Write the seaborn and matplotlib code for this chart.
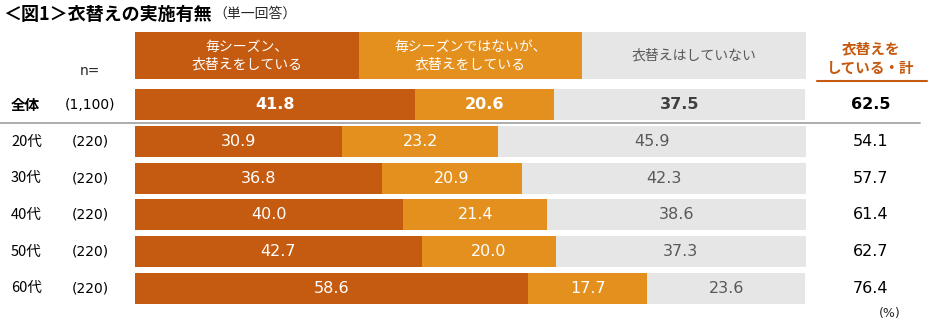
import matplotlib
matplotlib.use("Agg")
import matplotlib.pyplot as plt
from matplotlib.lines import Line2D
from matplotlib.transforms import blended_transform_factory
import seaborn as sns
import numpy as np

# ---------------- data ----------------
groups = ["全体", "20代", "30代", "40代", "50代", "60代"]
sample_sizes = ["(1,100)", "(220)", "(220)", "(220)", "(220)", "(220)"]
every_season = [41.8, 30.9, 36.8, 40.0, 42.7, 58.6]
not_every_season = [20.6, 23.2, 20.9, 21.4, 20.0, 17.7]
not_doing = [37.5, 45.9, 42.3, 38.6, 37.3, 23.6]
doing_total = [62.5, 54.1, 57.7, 61.4, 62.7, 76.4]
series_labels = ["毎シーズン、\n衣替えをしている",
                 "毎シーズンではないが、\n衣替えをしている",
                 "衣替えはしていない"]
total_label = "衣替えを\nしている・計"
title = "＜図1＞衣替えの実施有無"
subtitle = "（単一回答）"
n_label = "n="
unit_label = "(%)"

# ---------------- style ----------------
sns.set_theme(style="white")
plt.rcParams["font.family"] = ["DejaVu Sans", "Noto Sans CJK JP"]
CJK = ["Noto Sans CJK JP", "DejaVu Sans"]

W, H = 934, 327
fig = plt.figure(figsize=(W / 100, H / 100), dpi=100)


def fx(px):
    return px / W


def fy(py):
    return 1 - py / H


dark = "#C55A11"
light = "#E4901E"
gray = "#E6E6E6"
colors = [dark, light, gray]

ax = fig.add_axes([fx(135), fy(306.5), fx(806) - fx(135), (306.5 - 86.5) / H])
hax = fig.add_axes([fx(135), fy(79), fx(806) - fx(135), 47 / H])

# ---------------- stacked bars ----------------
series = [every_season, not_every_season, not_doing]
left = np.zeros(len(groups))
for i, vals in enumerate(series):
    sns.barplot(x=vals, y=groups, orient="h", left=left, color=colors[i],
                width=0.84, saturation=1, errorbar=None, ax=ax, linewidth=0)
    cont = ax.containers[-1]
    txt_color = "white" if i < 2 else "#595959"
    texts = ax.bar_label(cont, labels=[f"{v:.1f}" for v in vals],
                         label_type="center", color=txt_color, fontsize=11.5)
    texts[0].set_fontweight("bold")
    if i == 2:
        texts[0].set_color("#404040")
    left = left + np.array(vals)

ax.set_xlim(0, 100)
ax.set_ylim(len(groups) - 0.5, -0.5)
ax.set_axis_off()

# ---------------- header (legend cells) ----------------
sns.barplot(x=series_labels, y=[1, 1, 1], hue=series_labels, palette=colors,
            width=1.0, saturation=1, legend=False, ax=hax, linewidth=0)
hax.set_xlim(-0.5, 2.5)
hax.set_ylim(0, 1)
for i, lab in enumerate(series_labels):
    hax.text(i, 0.5, lab, ha="center", va="center", fontsize=10,
             family=CJK, color="white" if i < 2 else "#595959",
             linespacing=1.3)
hax.set_axis_off()

# ---------------- row labels & totals ----------------
trans = blended_transform_factory(fig.transFigure, ax.transData)
for i, g in enumerate(groups):
    bold = "bold" if i == 0 else "normal"
    ax.text(fx(11), i, g, transform=trans, ha="left", va="center",
            fontsize=10.5, fontweight=bold, color="#000000", family=CJK)
    ax.text(fx(90), i, sample_sizes[i], transform=trans, ha="center",
            va="center", fontsize=10, color="#000000")
    ax.text(fx(871), i, f"{doing_total[i]:.1f}", transform=trans,
            ha="center", va="center", fontsize=11.5, fontweight=bold,
            color="#000000")

fig.text(fx(90), fy(71), n_label, ha="center", va="center", fontsize=10)
fig.text(fx(871), fy(58), total_label, ha="center", va="center",
         fontsize=10.5, fontweight="bold", color=dark, linespacing=1.25,
         family=CJK)
fig.text(fx(890), fy(313), unit_label, ha="center", va="center", fontsize=9)

# title
t = fig.text(fx(3), fy(14), title, ha="left", va="center", fontsize=13,
             fontweight="bold", color="#000000", family=CJK)
ax.annotate(subtitle, xy=(1, 0.5), xycoords=t, xytext=(1, 0),
            textcoords="offset points", ha="left", va="center", fontsize=10,
            family=CJK)

# lines
fig.add_artist(Line2D([0, fx(920)], [fy(123), fy(123)], color="#A6A6A6", lw=1.3))
fig.add_artist(Line2D([fx(817), fx(927)], [fy(81), fy(81)], color=dark, lw=1.5))

fig.savefig("out.png", dpi=100)
